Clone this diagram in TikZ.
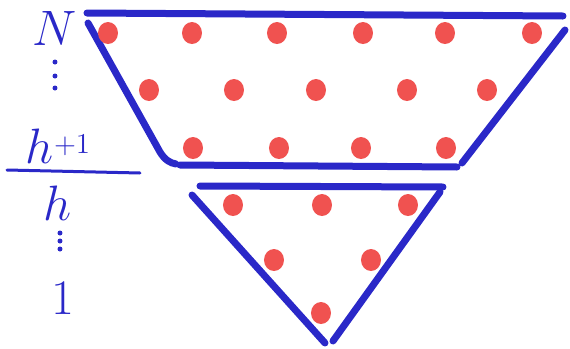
\documentclass[tikz,border=0pt]{standalone}
\usepackage{amsmath}
\definecolor{penblue}{RGB}{42,40,200}
\definecolor{dotred}{RGB}{240,82,80}
\tikzset{
  stroke/.style={draw=penblue,line width=3.5pt,line cap=round,line join=round},
  reddot/.style={fill=dotred,draw=none},
  bluedot/.style={fill=penblue,draw=none},
  lbl/.style={text=penblue,inner sep=0pt,font=\fontsize{24}{28}\selectfont}
}
\begin{document}
\begin{tikzpicture}[x=0.5pt,y=-0.5pt]
  \useasboundingbox (0,0) rectangle (570,349);
  % upper part
  \draw[stroke] (87,13) -- (563,16);
  \draw[stroke] (88,23) -- (160,152) .. controls (165,160) and (170,163) .. (176,164);
  \draw[stroke] (180,165) -- (457,167);
  \draw[stroke] (462,163) -- (565,30);
  \foreach \x in {108,192,277,363,445,532}
    \fill[reddot] (\x,33) ellipse (10 and 11);
  \foreach \x in {149,234,316,407,487}
    \fill[reddot] (\x,90) ellipse (10 and 11);
  \foreach \x in {193,279,361,446}
    \fill[reddot] (\x,148) ellipse (10 and 11);
  % lower part
  \draw[stroke] (200,186) -- (443,187);
  \draw[stroke] (192,195) -- (325,343);
  \draw[stroke] (333,341) -- (440,192);
  \foreach \x/\y in {233/205,322/205,408/205,274/260,371/260,321/313}
    \fill[reddot] (\x,\y) ellipse (10 and 11);
  % levels
  \node[lbl] (N) at (55,28) {$N$};
  \foreach \y in {62,76,88}
    \fill[bluedot] (55,\y) circle (2.5);
  \node[lbl] (hp) at (58,146) {$h$\raisebox{5pt}{\fontsize{14}{16}\selectfont$+1$}};
  \coordinate (s1) at (7,170);
  \coordinate (s2) at (140,173);
  \draw[draw=penblue,line width=1.5pt,line cap=round] (s1) -- (s2);
  \node[lbl] (h) at (58,203) {$h$};
  \foreach \y in {233,241,249}
    \fill[bluedot] (60,\y) circle (2.5);
  \node[lbl] (one) at (63,298) {$1$};
\end{tikzpicture}
\end{document}
